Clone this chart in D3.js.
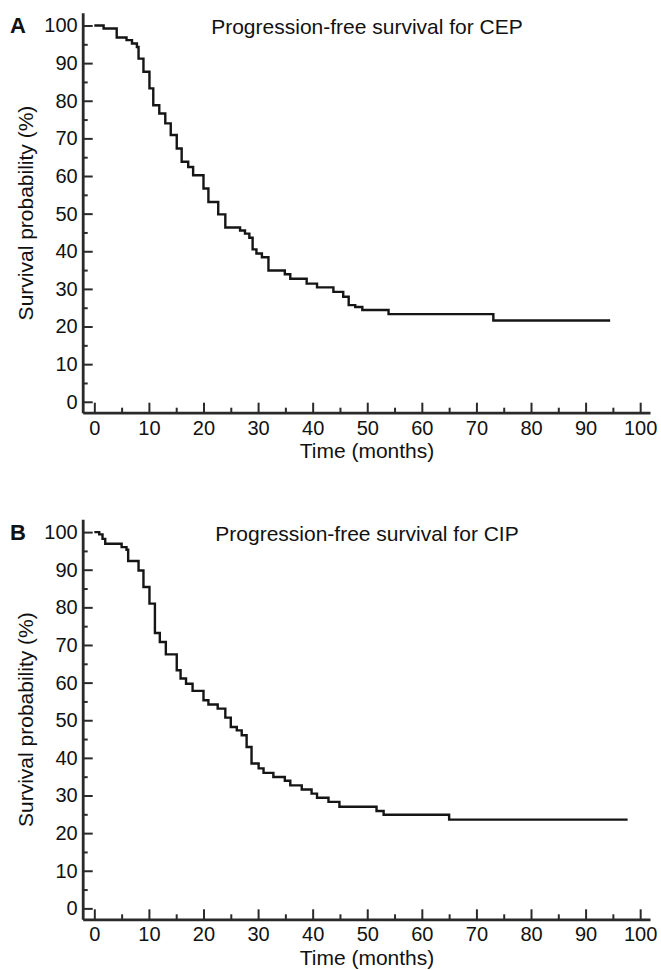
<!DOCTYPE html>
<html>
<head>
<meta charset="utf-8">
<script src="https://cdn.jsdelivr.net/npm/d3@7"></script>
<style>
  body { margin: 0; background: #fff; }
  text { font-family: "Liberation Sans", Arial, Helvetica, sans-serif; fill: #111; }
</style>
</head>
<body>
<script>
let width = 661
let height = 970

// panel A - CEP (step times in months, survival % after each step)
let timesA = [0, 1.7, 4.1, 5.9, 6.9, 7.8, 8.1, 9.0, 10.1, 10.8, 11.9, 13.0, 14.0, 15.1, 16.0, 17.2, 18.1,
  20.0, 20.9, 22.7, 24.0, 26.7, 27.6, 28.4, 29.0, 29.7, 30.7, 31.9, 34.9, 35.9, 38.9, 40.8, 43.8,
  45.6, 46.6, 47.8, 49.1, 53.9, 73.1]
let survA = [100, 99.2, 96.8, 96.1, 95.2, 94.3, 91.2, 87.7, 83.3, 78.8, 76.6, 74.0, 70.9, 67.3, 63.8, 62.4, 60.2,
  56.7, 53.1, 49.8, 46.3, 45.5, 44.7, 43.6, 40.5, 39.4, 38.4, 34.9, 33.9, 32.7, 31.4, 30.4, 29.2,
  27.9, 25.7, 25.2, 24.4, 23.3, 21.6]
let endA = 94.5

// panel B - CIP
let timesB = [0, 0.9, 1.5, 2.0, 5.0, 5.9, 6.2, 8.1, 9.0, 10.1, 11.1, 12.0, 13.1, 15.1, 15.8, 16.8, 18.0,
  20.0, 20.9, 22.6, 24.0, 25.0, 26.1, 27.0, 27.9, 28.8, 30.1, 31.0, 32.8, 34.9, 35.9, 38.0, 39.8,
  40.8, 42.9, 44.9, 51.7, 53.0, 65.0]
let survB = [100, 99.4, 98.2, 96.9, 96.0, 95.3, 92.3, 89.8, 85.4, 81.0, 73.2, 70.8, 67.5, 63.3, 61.1, 59.7, 57.8,
  55.3, 54.2, 53.1, 50.7, 48.2, 47.3, 46.0, 42.9, 38.5, 37.2, 36.0, 34.9, 33.9, 32.7, 31.6, 30.5,
  29.4, 28.3, 27.0, 25.9, 24.9, 23.6]
let endB = 97.7

let panelLabels = ["A", "B"]
let titles = ["Progression-free survival for CEP", "Progression-free survival for CIP"]
let xTicks = [0, 10, 20, 30, 40, 50, 60, 70, 80, 90, 100]
let yTicks = [0, 10, 20, 30, 40, 50, 60, 70, 80, 90, 100]

let svg = d3.select("body")
    .append("svg")
    .attr("width", width)
    .attr("height", height)

let x = d3.scaleLinear()
    .domain([-2.13, 101.8])
    .range([82.7, 650])

let y = d3.scaleLinear()
    .domain([-2.9, 103.4])
    .range([412.7, 12.7])

let line = d3.line()
    .curve(d3.curveStepAfter)
    .x(d => x(d[0]))
    .y(d => y(d[1]))

let panels = [
  { times: timesA, surv: survA, end: endA },
  { times: timesB, surv: survB, end: endB }
]

panels.forEach(function(p, i) {
    let g = svg.append("g")
        .attr("transform", `translate(0,${i * 506.6})`)

    let pts = p.times.map((t, j) => [t, p.surv[j]])
    pts.push([p.end, p.surv[p.surv.length - 1]])

    g.append("path")
        .datum(pts)
        .attr("fill", "none")
        .attr("stroke", "#151515")
        .attr("stroke-width", 2.4)
        .attr("d", line)

    // x axis, ticks pointing inwards
    let xa = g.append("g")
        .attr("transform", `translate(0,${y.range()[0]})`)
        .call(d3.axisBottom(x).tickValues(xTicks).tickSizeInner(-10).tickSizeOuter(0).tickPadding(8))
    xa.append("g")
        .call(d3.axisBottom(x).tickValues(d3.range(5, 100, 10)).tickSize(-5).tickFormat(""))
        .select(".domain").remove()

    // y axis
    let ya = g.append("g")
        .attr("transform", `translate(${x.range()[0]},0)`)
        .call(d3.axisLeft(y).tickValues(yTicks).tickSizeInner(-10).tickSizeOuter(0).tickPadding(5))
    ya.append("g")
        .call(d3.axisLeft(y).tickValues(d3.range(5, 100, 10)).tickSize(-5).tickFormat(""))
        .select(".domain").remove()

    g.selectAll(".domain").attr("stroke", "#2a2a2a").attr("stroke-width", 2.8)
    g.selectAll(".tick line").attr("stroke", "#2a2a2a").attr("stroke-width", 2)
    g.selectAll(".tick text")
        .attr("font-size", 20)
        .attr("font-family", "Liberation Sans, Arial, sans-serif")
        .attr("fill", "#111")

    g.append("text")
        .attr("x", 10)
        .attr("y", 33)
        .attr("font-size", 22)
        .attr("font-weight", "bold")
        .text(panelLabels[i])

    g.append("text")
        .attr("x", 367)
        .attr("y", 34.3)
        .attr("text-anchor", "middle")
        .attr("font-size", 21)
        .text(titles[i])

    g.append("text")
        .attr("x", 367)
        .attr("y", 458)
        .attr("text-anchor", "middle")
        .attr("font-size", 21)
        .text("Time (months)")

    g.append("text")
        .attr("transform", "translate(33,213) rotate(-90)")
        .attr("text-anchor", "middle")
        .attr("font-size", 21)
        .text("Survival probability (%)")
})
</script>
</body>
</html>
